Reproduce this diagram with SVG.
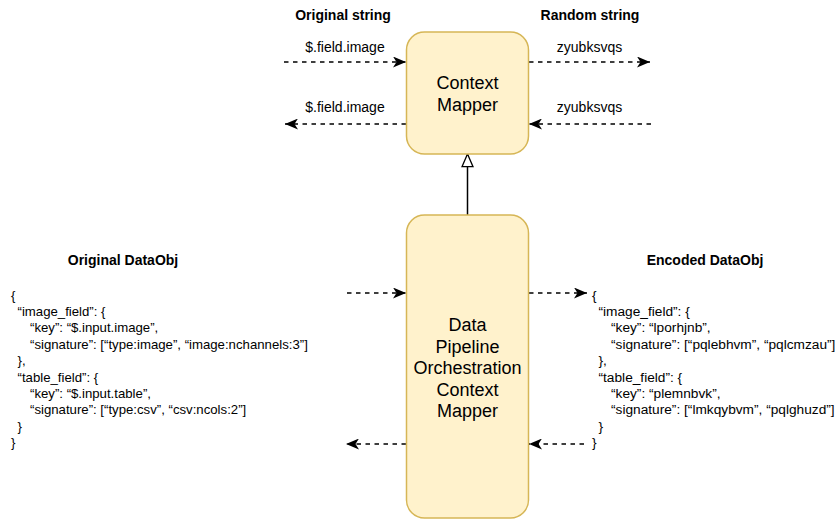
<svg xmlns="http://www.w3.org/2000/svg" width="838" height="519" viewBox="0 0 838 519">
  <style>
    text { font-family: "Liberation Sans", Arial, Helvetica, sans-serif; fill: #000000; }
    .title { font-size: 14px; font-weight: bold; text-anchor: middle; }
    .lbl { font-size: 14px; text-anchor: middle; }
    .box { fill: #fff2cc; stroke: #d6b656; stroke-width: 1.5; }
    .boxtxt { font-size: 18px; text-anchor: middle; }
    .jsonL { font-size: 13.2px; }
    .jsonR { font-size: 13.7px; }
    .dash { fill: none; stroke: #000000; stroke-width: 1.5; stroke-dasharray: 4.5 4.5; marker-end: url(#arrow); }
    .solid { fill: none; stroke: #000000; stroke-width: 1.5; marker-end: url(#openTri); }
  </style>
  <defs>
    <marker id="arrow" viewBox="0 0 13 11" refX="13" refY="5.5" markerWidth="13" markerHeight="11" markerUnits="userSpaceOnUse" orient="auto">
      <path d="M0,0 L13,5.5 L0,11 L3.5,5.5 Z" fill="#000000"/>
    </marker>
    <marker id="openTri" viewBox="-1 -1 15 13" refX="12.7" refY="5.5" markerWidth="15" markerHeight="13" markerUnits="userSpaceOnUse" orient="auto">
      <path d="M0,0 L12.7,5.5 L0,11 Z" fill="#ffffff" stroke="#000000" stroke-width="1.3"/>
    </marker>
  </defs>

  <!-- section headings -->
  <text class="title" x="343" y="20">Original string</text>
  <text class="title" x="590" y="20">Random string</text>
  <text class="title" x="123" y="265">Original DataObj</text>
  <text class="title" x="705" y="265">Encoded DataObj</text>

  <!-- connectors -->
  <g id="connectors">
    <path class="dash" d="M284,62 L406,62"/>
    <path class="dash" d="M529,62 L650,62"/>
    <path class="dash" d="M406,124 L285,124"/>
    <path class="dash" d="M651,124 L529,124"/>
    <path class="dash" d="M347,293 L406,293"/>
    <path class="dash" d="M406,444 L346,444"/>
    <path class="dash" d="M529,293 L587,293"/>
    <path class="dash" d="M584,444 L529,444"/>
    <path class="solid" d="M467.5,215 L467.5,154"/>
    <text class="lbl" x="345" y="51.5">$.field.image</text>
    <text class="lbl" x="589.5" y="51.5">zyubksvqs</text>
    <text class="lbl" x="345" y="112">$.field.image</text>
    <text class="lbl" x="589.5" y="112">zyubksvqs</text>
  </g>

  <!-- small mapper -->
  <g id="context-mapper">
    <rect class="box" x="406.5" y="32" width="122" height="122" rx="18" ry="18"/>
    <text class="boxtxt" x="467.5" y="88.5">Context</text>
    <text class="boxtxt" x="467.5" y="110.5">Mapper</text>
  </g>

  <!-- orchestration mapper -->
  <g id="pipeline-mapper">
    <rect class="box" x="406.5" y="215" width="122" height="303" rx="18" ry="18"/>
    <text class="boxtxt" x="467.5" y="331">Data</text>
    <text class="boxtxt" x="467.5" y="352.6">Pipeline</text>
    <text class="boxtxt" x="467.5" y="374.2">Orchestration</text>
    <text class="boxtxt" x="467.5" y="395.8">Context</text>
    <text class="boxtxt" x="467.5" y="417.4">Mapper</text>
  </g>

  <!-- original data object -->
  <g id="original-dataobj">
    <text class="jsonL" x="11" y="299.5">{</text>
    <text class="jsonL" x="17.5" y="315.9">“image_field”: {</text>
    <text class="jsonL" x="30" y="332.3">“key”: “$.input.image”,</text>
    <text class="jsonL" x="30" y="348.7">“signature”: [“type:image”, “image:nchannels:3”]</text>
    <text class="jsonL" x="17.5" y="365.1">},</text>
    <text class="jsonL" x="17.5" y="381.5">“table_field”: {</text>
    <text class="jsonL" x="30" y="397.9">“key”: “$.input.table”,</text>
    <text class="jsonL" x="30" y="414.3">“signature”: [“type:csv”, “csv:ncols:2”]</text>
    <text class="jsonL" x="17.5" y="430.7">}</text>
    <text class="jsonL" x="11" y="447.1">}</text>
  </g>

  <!-- encoded data object -->
  <g id="encoded-dataobj">
    <text class="jsonR" x="592" y="299.5">{</text>
    <text class="jsonR" x="598.5" y="315.9">“image_field”: {</text>
    <text class="jsonR" x="611" y="332.3">“key”: “lporhjnb”,</text>
    <text class="jsonR" x="611" y="348.7">“signature”: [“pqlebhvm”, “pqlcmzau”]</text>
    <text class="jsonR" x="598.5" y="365.1">},</text>
    <text class="jsonR" x="598.5" y="381.5">“table_field”: {</text>
    <text class="jsonR" x="611" y="397.9">“key”: “plemnbvk”,</text>
    <text class="jsonR" x="611" y="414.3">“signature”: [“lmkqybvm”, “pqlghuzd”]</text>
    <text class="jsonR" x="598.5" y="430.7">}</text>
    <text class="jsonR" x="592" y="447.1">}</text>
  </g>
</svg>
